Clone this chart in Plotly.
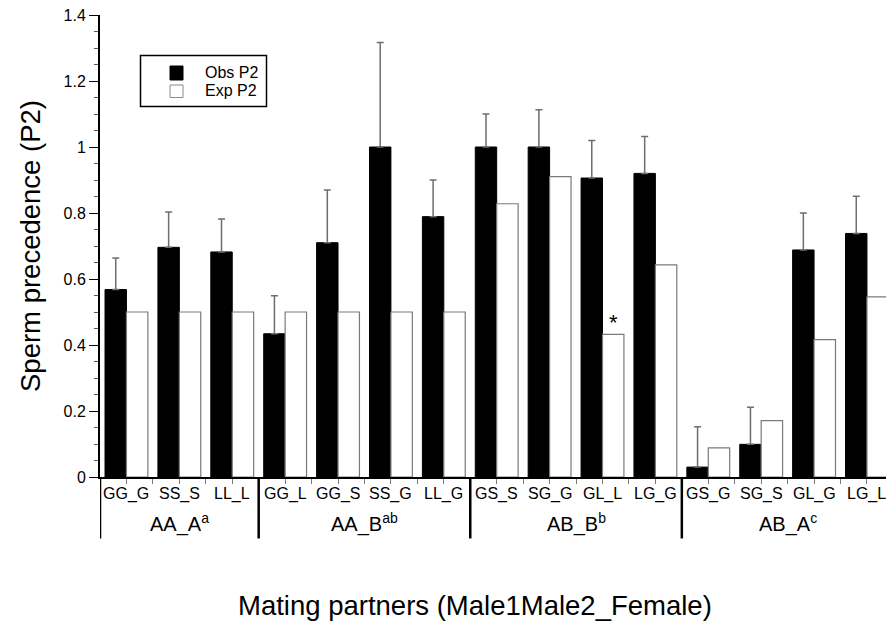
import plotly.graph_objects as go

categories = ["GG_G", "SS_S", "LL_L",
              "GG_L", "GG_S", "SS_G", "LL_G",
              "GS_S", "SG_G", "GL_L", "LG_G",
              "GS_G", "SG_S", "GL_G", "LG_L"]
groups = ["AA_A<sup>a</sup>", "AA_B<sup>ab</sup>", "AB_B<sup>b</sup>", "AB_A<sup>c</sup>"]
group_sizes = [3, 4, 4, 4]

obs_p2 = [0.568, 0.696, 0.682,
          0.434, 0.710, 1.000, 0.789,
          1.000, 1.000, 0.906, 0.920,
          0.030, 0.099, 0.688, 0.738]
obs_err_top = [0.664, 0.803, 0.782,
               0.549, 0.870, 1.317, 0.900,
               1.100, 1.113, 1.020, 1.032,
               0.152, 0.211, 0.800, 0.851]
exp_p2 = [0.5, 0.5, 0.5,
          0.5, 0.5, 0.5, 0.5,
          0.828, 0.910, 0.432, 0.643,
          0.088, 0.171, 0.416, 0.546]
significant = [False] * 9 + [True] + [False] * 5
series_names = ["Obs P2", "Exp P2"]

FONT = "Liberation Sans, Arial, sans-serif"
W, H = 886, 622
ML, MR, MT, MB = 100, 0, 15, 145
PW, PH = W - ML - MR, H - MT - MB


def px(xp):
    return (xp - ML) / PW


def py(yp):
    return (H - MB - yp) / PH


xs = list(range(len(categories)))
err_plus = [t - v for t, v in zip(obs_err_top, obs_p2)]

fig = go.Figure()
fig.add_trace(go.Bar(
    x=xs, y=obs_p2, name=series_names[0], showlegend=False,
    marker=dict(color="black", line=dict(color="black", width=1)),
    error_y=dict(type="data", array=err_plus, arrayminus=[0] * len(xs),
                 symmetric=False, color="#6e6e6e", thickness=1.5, width=3.5),
))
fig.add_trace(go.Bar(
    x=xs, y=exp_p2, name=series_names[1], showlegend=False,
    marker=dict(color="white", line=dict(color="#7a7a7a", width=1.2)),
))

shapes = []
annotations = []

# category labels (as text so that the last, partly cut one still shows)
for i, c in enumerate(categories):
    annotations.append(dict(xref="x", yref="paper", x=i, y=0, yshift=-17,
                            xanchor="center", yanchor="middle", text=c,
                            showarrow=False,
                            font=dict(family=FONT, size=16, color="black")))

start = 0
for g, n in zip(groups, group_sizes):
    shapes.append(dict(type="line", xref="x", yref="paper",
                       x0=start - 0.5, x1=start - 0.5, y0=0, y1=-0.133,
                       line=dict(color="black", width=2.5)))
    annotations.append(dict(xref="x", yref="paper", x=start + (n - 1) / 2, y=0,
                            yshift=-46, xanchor="center", yanchor="middle",
                            text=g, showarrow=False,
                            font=dict(family=FONT, size=20, color="black")))
    start += n

for i, s in enumerate(significant):
    if s:
        annotations.append(dict(xref="x", yref="y", x=i + 0.2, y=exp_p2[i],
                                yshift=12, xanchor="center", yanchor="middle",
                                text="*", showarrow=False,
                                font=dict(family=FONT, size=22, color="black")))

annotations.append(dict(xref="paper", yref="paper", x=px(30), y=0.5,
                        xanchor="center", yanchor="middle",
                        text="Sperm precedence (P2)", textangle=-90, showarrow=False,
                        font=dict(family=FONT, size=27.5, color="black")))
annotations.append(dict(xref="paper", yref="paper", x=px(475), y=py(605),
                        xanchor="center", yanchor="middle",
                        text="Mating partners (Male1Male2_Female)", showarrow=False,
                        font=dict(family=FONT, size=27.5, color="black")))

# legend box (drawn)
shapes.append(dict(type="rect", xref="paper", yref="paper",
                   x0=px(140.5), x1=px(266.5), y0=py(106.5), y1=py(55.5),
                   line=dict(color="black", width=1.5), fillcolor="white"))
shapes.append(dict(type="rect", xref="paper", yref="paper",
                   x0=px(170), x1=px(183), y0=py(80), y1=py(66),
                   line=dict(color="black", width=1), fillcolor="black"))
shapes.append(dict(type="rect", xref="paper", yref="paper",
                   x0=px(170), x1=px(183), y0=py(97.5), y1=py(85),
                   line=dict(color="#8a8a8a", width=1), fillcolor="white"))
for name, yc in zip(series_names, [72.7, 90.7]):
    annotations.append(dict(xref="paper", yref="paper", x=px(203), y=py(yc),
                            xanchor="left", yanchor="middle", text=name,
                            showarrow=False,
                            font=dict(family=FONT, size=16, color="black")))

fig.update_layout(
    width=W, height=H,
    margin=dict(l=ML, r=MR, t=MT, b=MB, autoexpand=False),
    paper_bgcolor="white", plot_bgcolor="white",
    barmode="group", bargap=0.19, bargroupgap=0,
    showlegend=False,
    shapes=shapes, annotations=annotations,
    font=dict(family=FONT, color="black"),
)
fig.update_xaxes(
    range=[-0.5, 14.36], showgrid=False, zeroline=False,
    tickmode="array", tickvals=xs, showticklabels=False,
    ticks="outside", ticklen=5, tickcolor="#7a7a7a", tickwidth=1,
    showline=True, linecolor="black", linewidth=2,
    minor=dict(tickmode="linear", tick0=0.5, dtick=1, ticks="outside",
               ticklen=5, tickcolor="#7a7a7a", tickwidth=1),
)
fig.update_yaxes(
    range=[0, 1.4], showgrid=False, zeroline=False,
    tickmode="linear", tick0=0, dtick=0.2,
    ticks="outside", ticklen=9, tickcolor="black", tickwidth=1,
    tickfont=dict(family=FONT, size=16, color="black"),
    showline=True, linecolor="black", linewidth=2,
    minor=dict(tickmode="linear", tick0=0, dtick=0.05, ticks="outside",
               ticklen=4, tickcolor="#555555", tickwidth=1),
)

fig.write_html("out.html", config={"displayModeBar": False},
               post_script="document.body.style.margin='0';document.body.style.padding='0';")
